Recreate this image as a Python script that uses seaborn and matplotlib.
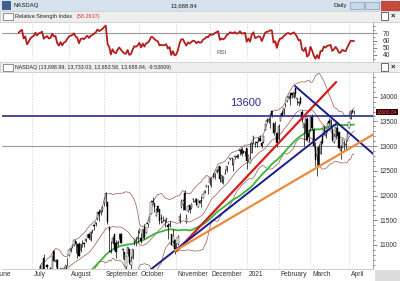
import numpy as np
import pandas as pd
import matplotlib
matplotlib.use("Agg")
import matplotlib.pyplot as plt
import seaborn as sns
from matplotlib.patches import Rectangle

# ---------------- data (NASDAQ daily, Jun 2020 - Apr 7 2021) ----------------
open_px = [
    9471, 9568, 9673, 9648, 9705, 9854, 9890, 10012, 9830, 9728, 9466, 9940, 9904, 9880, 10010, 9937, 10110, 10087, 9901, 9999, 9786, 9877,
    10059, 10242, 10363, 10380, 10405, 10566, 10512, 10735, 10330, 10600, 10455, 10530, 10480, 10880, 10660, 10701, 10299, 10420, 10511, 10447, 10442, 10730,
    10791, 10894, 10966, 10999, 11080, 11010, 11026, 10905, 11030, 11035, 11072, 11171, 11213, 11101, 11283, 11399, 11424, 11520, 11677, 11676, 11705,
    11850, 11945, 11862, 11345, 10879, 11032, 11225, 11030, 11021, 11183, 11227, 10895, 10867, 10562, 10826, 10913, 10596, 10731, 11076, 11065, 11114,
    11253, 11139, 11133, 11372, 11237, 11450, 11463, 11630, 11896, 11827, 11594, 11781, 11722, 11555, 11444, 11489, 11520, 11411, 11403, 11225, 11067, 11100,
    10962, 11010, 11480, 11759, 11829, 12050, 11461, 11695, 11804, 11751, 11926, 11879, 11927, 11769, 11896, 11909, 11945, 12054, 12172, 12190,
    12257, 12324, 12366, 12381, 12470, 12526, 12592, 12269, 12343, 12444, 12508, 12656, 12736, 12767, 12633, 12772, 12793, 12796, 12915, 12932, 12906, 12878,
    12959, 12698, 12666, 12865, 13160, 13048, 13090, 13110, 13155, 13054, 13091, 13334, 13492, 13506, 13635, 13715, 13467, 13354, 13258,
    13152, 13512, 13667, 13673, 13851, 13905, 13966, 14072, 14065, 14000, 14167, 13945, 13894, 13978, 13683, 13369, 13434, 13555, 13269,
    13353, 13589, 13328, 12975, 12795, 12975, 12838, 13205, 13200, 13200, 13313, 13515, 13405, 13354, 13084, 13180, 13375, 13283, 12898, 12991, 13060, 13032, 13105,
    13376, 13551, 13704, 13699,
]
high_px = [
    9563, 9616, 9694, 9681, 9846, 9925, 10002, 10086, 9926, 9765, 9755, 9949, 9952, 9945, 10055, 10058, 10221, 10089, 10019, 10011, 9880, 10066,
    10185, 10310, 10448, 10398, 10495, 10577, 10621, 10825, 10492, 10610, 10520, 10545, 10772, 10890, 10708, 10720, 10436, 10542, 10528, 10560, 10604, 10746,
    10904, 10945, 11003, 11121, 11087, 11011, 11066, 11018, 11101, 11055, 11135, 11214, 11244, 11276, 11313, 11420, 11466, 11665, 11719, 11717, 11782,
    11945, 12074, 11862, 11393, 11090, 11188, 11227, 11101, 11100, 11245, 11244, 10935, 10868, 10793, 10964, 10916, 10780, 10920, 11130, 11157, 11295,
    11335, 11247, 11333, 11423, 11372, 11446, 11580, 11907, 11967, 11860, 11744, 11806, 11732, 11618, 11581, 11533, 11549, 11452, 11482, 11231, 11332, 11119,
    11050, 11194, 11645, 11921, 11921, 12109, 11617, 11789, 11818, 11850, 11960, 11952, 11958, 11908, 11913, 11985, 12047, 12103, 12206, 12212,
    12363, 12359, 12447, 12464, 12544, 12585, 12608, 12407, 12386, 12547, 12596, 12700, 12766, 12790, 12745, 12809, 12839, 12837, 12930, 12974, 12925, 12902,
    12959, 12829, 13071, 13090, 13207, 13103, 13113, 13181, 13228, 13102, 13197, 13461, 13560, 13564, 13640, 13728, 13468, 13511, 13259,
    13439, 13648, 13729, 13778, 13880, 13988, 14013, 14082, 14073, 14096, 14175, 13967, 13923, 14006, 13730, 13474, 13603, 13599, 13340,
    13589, 13653, 13358, 13075, 12975, 13052, 13125, 13212, 13409, 13324, 13460, 13566, 13542, 13365, 13250, 13388, 13421, 13289, 13014, 13146, 13120, 13116, 13296,
    13486, 13721, 13757, 13733,
]
low_px = [
    9453, 9515, 9602, 9578, 9656, 9834, 9868, 9985, 9492, 9431, 9403, 9727, 9876, 9833, 9900, 9917, 10083, 9838, 9850, 9749, 9716, 9862,
    10037, 10192, 10362, 10332, 10398, 10420, 10487, 10386, 10295, 10467, 10387, 10459, 10472, 10676, 10560, 10440, 10285, 10408, 10400, 10446, 10425, 10573,
    10783, 10852, 10931, 10975, 10828, 10736, 10777, 10853, 10967, 10960, 11070, 11153, 11131, 11085, 11240, 11296, 11377, 11513, 11492, 11607, 11665,
    11795, 11794, 11420, 10875, 10844, 11010, 10906, 10733, 10985, 11122, 11043, 10718, 10699, 10520, 10785, 10621, 10519, 10719, 11007, 10984, 11067,
    11242, 11049, 11132, 11120, 11235, 11368, 11455, 11627, 11837, 11674, 11587, 11666, 11418, 11445, 11479, 11367, 11457, 11130, 11372, 11004, 11047, 10822,
    10880, 10994, 11450, 11754, 11716, 11710, 11443, 11667, 11641, 11724, 11870, 11860, 11801, 11761, 11855, 11774, 11945, 12048, 12164, 12031,
    12205, 12173, 12349, 12338, 12462, 12497, 12272, 12261, 12242, 12435, 12479, 12630, 12720, 12621, 12498, 12737, 12767, 12767, 12828, 12804, 12856, 12791,
    12543, 12696, 12652, 12864, 13039, 12991, 12989, 13079, 13109, 12960, 13056, 13319, 13491, 13474, 13364, 13584, 13223, 13287, 12981,
    13130, 13504, 13608, 13623, 13783, 13887, 13953, 13842, 13966, 13981, 13991, 13836, 13804, 13853, 13492, 13004, 13292, 13116, 13088,
    13309, 13325, 12995, 12607, 12397, 12605, 12837, 13036, 13240, 13158, 13280, 13440, 13339, 13114, 13065, 13138, 13209, 12962, 12734, 12956, 12925, 12947, 13104,
    13369, 13551, 13667, 13654,
]
close_px = [
    9552, 9608, 9683, 9616, 9814, 9925, 9954, 10020, 9493, 9589, 9726, 9896, 9911, 9943, 9946, 10056, 10131, 9909, 10017, 9757, 9874, 10059,
    10155, 10208, 10434, 10344, 10493, 10548, 10617, 10391, 10489, 10550, 10474, 10503, 10767, 10680, 10706, 10461, 10363, 10536, 10402, 10543, 10588, 10745,
    10903, 10941, 10998, 11108, 11011, 10968, 10783, 11012, 11043, 11019, 11130, 11211, 11146, 11265, 11312, 11380, 11466, 11665, 11625, 11696, 11775,
    11940, 12056, 11458, 11313, 10848, 11142, 10920, 10854, 11057, 11190, 11050, 10910, 10793, 10779, 10964, 10633, 10672, 10914, 11118, 11085, 11168,
    11327, 11075, 11332, 11155, 11365, 11421, 11580, 11876, 11864, 11769, 11714, 11672, 11479, 11516, 11485, 11506, 11548, 11359, 11431, 11005, 11186, 10912,
    10958, 11161, 11591, 11891, 11895, 11714, 11554, 11786, 11710, 11829, 11924, 11899, 11802, 11905, 11855, 11881, 12037, 12094, 12206, 12199,
    12355, 12349, 12377, 12464, 12520, 12583, 12339, 12406, 12378, 12440, 12595, 12658, 12765, 12756, 12743, 12808, 12771, 12805, 12899, 12850, 12870, 12888,
    12698, 12819, 12741, 13067, 13202, 13036, 13072, 13129, 13113, 12999, 13197, 13457, 13531, 13543, 13636, 13626, 13271, 13337, 13071,
    13403, 13613, 13611, 13778, 13856, 13988, 14008, 13973, 14026, 14095, 14048, 13966, 13865, 13874, 13533, 13465, 13598, 13119, 13192,
    13589, 13359, 12998, 12723, 12920, 12609, 13074, 13069, 13399, 13320, 13460, 13472, 13525, 13116, 13215, 13378, 13228, 12962, 12978, 13139, 13060, 13045, 13247,
    13480, 13706, 13698, 13689,
]
holidays = ["2020-07-03", "2020-09-07", "2020-11-26", "2020-12-25",
            "2021-01-01", "2021-01-18", "2021-02-15", "2021-04-02"]
month_labels = ["June", "July", "August", "September", "October", "November",
                "December", "2021", "February", "March", "April"]
price_ticks = [11000, 11500, 12000, 12500, 13000, 13500, 14000]
rsi_ticks = [40, 50, 60, 70]

# trend lines: (trading-day position, price)
red_line = ([108.3, 203.3], [10879, 14296])
navy_up_line = ([92.4, 203.7], [10494, 13462])
navy_down_line = ([178.8, 225.5], [14216, 12841])
orange_line = ([107.3, 225.5], [10885, 13237])
level_13600 = 13600
level_13000 = 13000

# ---------------- frame ----------------
dates = pd.bdate_range("2020-06-01", "2021-04-07")
dates = dates[~dates.isin(pd.to_datetime(holidays))]
n = len(close_px)
assert len(dates) == n == len(open_px) == len(high_px) == len(low_px)
df = pd.DataFrame({"date": dates, "open": open_px, "high": high_px,
                   "low": low_px, "close": close_px})
df["i"] = np.arange(n)
df["sma20"] = df["close"].rolling(20).mean()
sd = df["close"].rolling(20).std(ddof=0)
df["bb_up"] = df["sma20"] + 2 * sd
df["bb_lo"] = df["sma20"] - 2 * sd
df["sma50"] = df["close"].rolling(50).mean()
delta = df["close"].diff()
gain = delta.clip(lower=0).ewm(alpha=1 / 14, adjust=False, min_periods=14).mean()
loss = (-delta.clip(upper=0)).ewm(alpha=1 / 14, adjust=False, min_periods=14).mean()
df["rsi"] = 100 - 100 / (1 + gain / loss)

month_start = df.groupby(df["date"].dt.to_period("M"))["i"].min().values
week_start = df.groupby(df["date"].dt.to_period("W"))["i"].min().values

sns.set_style("white")
plt.rcParams["font.family"] = ["Liberation Sans", "DejaVu Sans"]

W, H = 400, 281
fig = plt.figure(figsize=(W / 100, H / 100), dpi=100)
fig.patch.set_facecolor("white")


def fx(px):
    return px / W


def fy(py):
    return 1 - py / H


def frect(x0, y0, x1, y1, fc, ec="none", lw=0.5, z=0):
    fig.patches.append(Rectangle((fx(x0), fy(y1)), fx(x1 - x0), (y1 - y0) / H,
                                 transform=fig.transFigure, facecolor=fc,
                                 edgecolor=ec, lw=lw, zorder=z))


def ftext(x, y, s, **kw):
    fig.text(fx(x), fy(y), s, **kw)


# title bar
frect(0, 0, 400, 10.5, "#d7e2ef")
frect(2, 1.5, 10, 8.5, "#3b5f93", ec="#2a4470")
ftext(13, 5.5, "NASDAQ", fontsize=4.3, va="center", color="#1a1a1a")
ftext(184, 5.5, "13,688.84", fontsize=4.3, va="center", ha="center", color="#1a1a1a")
ftext(333, 5.5, "Daily", fontsize=4.3, va="center", color="#1a1a1a")
frect(350, 1.5, 364, 9, "#c8d7ea", ec="#8aa0bd")
frect(365, 1.5, 379, 9, "#c8d7ea", ec="#8aa0bd")
frect(381, 1.0, 399, 9.5, "#c9493a", ec="#9b2f22")

# RSI header
frect(0, 11, 400, 21.5, "#eeeeee", ec="#c4c4c4")
frect(3, 13, 13, 19.5, "white", ec="#666666")
ftext(15, 16.3, "Relative Strength Index", fontsize=4.0, va="center", color="#222222")
ftext(77, 16.3, "(58.2637)", fontsize=4.0, va="center", color="#d23c3c")
frect(381, 12.5, 388, 19.5, "white", ec="#333333")
ftext(393, 16.3, "×", fontsize=5.5, va="center", ha="center", color="#222222", weight="bold")

# main header
frect(0, 62, 400, 72, "#eeeeee", ec="#c4c4c4")
frect(3, 64, 13, 70.5, "white", ec="#666666")
ftext(15, 67, "NASDAQ (13,698.99, 13,733.03, 13,653.58, 13,688.84, -9.53809)",
      fontsize=3.8, va="center", color="#222222")
frect(381, 63.5, 388, 70.5, "white", ec="#333333")
ftext(393, 67, "×", fontsize=5.5, va="center", ha="center", color="#222222", weight="bold")

# bottom right corner box
frect(375, 270, 400, 281, "#dcdcdc")

XL = (4.1, 225.3)

# ---------------- RSI panel ----------------
ax_r = fig.add_axes([fx(2), fy(61), fx(371), 39 / H])
for x in month_start:
    ax_r.axvline(x, color="#cfcfcf", lw=0.5, ls=(0, (2, 2)), zorder=0)
ax_r.axhline(70, color="#9a9a9a", lw=0.8, zorder=1)
sns.lineplot(x=df["i"], y=df["rsi"], ax=ax_r, color="#b51d1d", lw=1.3, zorder=3)
ax_r.text(135.3, 44, "RSI", fontsize=4.5, color="#555555", ha="center", va="center")
ax_r.yaxis.tick_right()
ax_r.set_yticks(rsi_ticks)
ax_r.set_yticklabels([str(t) for t in rsi_ticks], fontsize=4.8, color="#333333")
ax_r.set_yticks(np.arange(35, 86, 5), minor=True)
ax_r.tick_params(axis="y", which="major", length=3, width=0.5, pad=4, colors="#555555", labelcolor="#333333")
ax_r.tick_params(axis="y", which="minor", length=1.5, width=0.5, colors="#555555")
ax_r.set_xticks([])
ax_r.set_xlabel("")
ax_r.set_ylabel("")
ax_r.set_xlim(*XL)
ax_r.set_ylim(31.7, 85.6)
for s in ["top", "left", "bottom"]:
    ax_r.spines[s].set_visible(False)
ax_r.spines["right"].set_color("#888888")
ax_r.spines["right"].set_linewidth(0.5)

# ---------------- price panel ----------------
ax = fig.add_axes([fx(2), 12 / H, fx(371), 197 / H])
for x in month_start:
    ax.axvline(x, color="#cfcfcf", lw=0.5, ls=(0, (2, 2)), zorder=0)
ax.axhline(level_13000, color="#9a9aa6", lw=0.8, zorder=1)

# Bollinger bands and SMA
for col in ["bb_up", "sma20", "bb_lo"]:
    sns.lineplot(x=df["i"], y=df[col], ax=ax, color="#9c5a4a", lw=0.5, zorder=2)
sns.lineplot(x=df["i"], y=df["sma50"], ax=ax, color="#3cb43c", lw=1.3, zorder=2.5)

# candles
idx = df["i"].values
o = df["open"].values
c = df["close"].values
up = c >= o
bb = np.minimum(o, c)
bh = np.maximum(np.abs(c - o), 6)
ax.vlines(idx, df["low"], df["high"], color="black", lw=0.5, zorder=3)
ax.bar(idx[up], bh[up], bottom=bb[up], width=0.75, color="white",
       edgecolor="black", lw=0.3, zorder=3.2)
ax.bar(idx[~up], bh[~up], bottom=bb[~up], width=0.75, color="black",
       edgecolor="black", lw=0.3, zorder=3.2)

# trend lines
ax.axhline(level_13600, color="#2b2b8c", lw=1.2, zorder=4)
sns.lineplot(x=red_line[0], y=red_line[1], ax=ax, color="#d41d1d", lw=1.6, zorder=4)
sns.lineplot(x=navy_up_line[0], y=navy_up_line[1], ax=ax, color="#1c1c8c", lw=1.4, zorder=4)
sns.lineplot(x=navy_down_line[0], y=navy_down_line[1], ax=ax, color="#1c1c8c", lw=1.4, zorder=4)
sns.lineplot(x=orange_line[0], y=orange_line[1], ax=ax, color="#ec8a3c", lw=1.6, zorder=4)
ax.text(149.6, 13873, "13600", fontsize=8, color="#2b2b8c", ha="center", va="center")

ax.yaxis.tick_right()
ax.set_yticks(price_ticks)
ax.set_yticklabels([str(t) for t in price_ticks], fontsize=4.8)
ax.set_yticks(np.arange(10600, 14500, 100), minor=True)
ax.tick_params(axis="y", which="major", length=3, width=0.5, pad=2, colors="#555555", labelcolor="#333333")
ax.tick_params(axis="y", which="minor", length=1.5, width=0.5, colors="#555555")
ax.set_xticks(week_start, minor=True)
ax.set_xticks([])
ax.tick_params(axis="x", which="minor", length=1.5, width=0.5, colors="#777777", direction="in")
ax.set_xlabel("")
ax.set_ylabel("")
ax.set_xlim(*XL)
ax.set_ylim(10514, 14500)
for s in ["top", "left"]:
    ax.spines[s].set_visible(False)
ax.spines["right"].set_color("#888888")
ax.spines["right"].set_linewidth(0.5)
ax.spines["bottom"].set_color("#bbbbbb")
ax.spines["bottom"].set_linewidth(0.5)

# month labels under the axis
for x, lab in zip(month_start, month_labels):
    ax.annotate(lab, xy=(x, 0), xycoords=("data", "axes fraction"),
                xytext=(1.2, -1.5), textcoords="offset points",
                fontsize=4.8, color="#333333", ha="left", va="top",
                annotation_clip=False)

# last price tag
last = df["close"].iloc[-1]
ax.annotate(f"{13688.84:.2f}", xy=(1.0, last), xycoords=("axes fraction", "data"),
            xytext=(2.8, 0), textcoords="offset points", fontsize=3.5,
            color="#ff4040", va="center", ha="left", annotation_clip=False,
            bbox=dict(boxstyle="square,pad=0.15", fc="#2a0a0a", ec="none"))

fig.savefig("out.png", dpi=100)
